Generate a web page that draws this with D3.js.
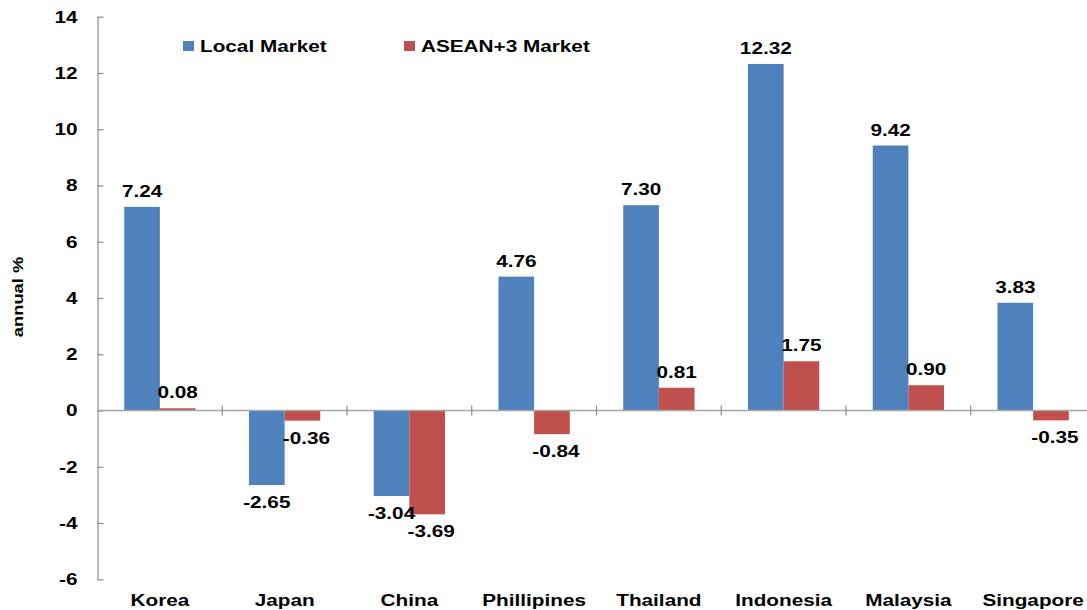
<!DOCTYPE html>
<html><head><meta charset="utf-8">
<script src="https://cdn.jsdelivr.net/npm/d3@7"></script>
<style>body{margin:0;background:#fff;} svg{display:block;font-family:"Liberation Sans",Arial,sans-serif;font-weight:bold;}</style>
</head><body>
<svg id="c" width="1087" height="610"></svg>
<script>
const categories = ["Korea","Japan","China","Phillipines","Thailand","Indonesia","Malaysia","Singapore"];
const seriesNames = ["Local Market","ASEAN+3 Market"];
const localMarket = [7.24,-2.65,-3.04,4.76,7.30,12.32,9.42,3.83];
const aseanMarket = [0.08,-0.36,-3.69,-0.84,0.81,1.75,0.90,-0.35];
const yTicks = [-6,-4,-2,0,2,4,6,8,10,12,14];
const colors = ["#4F81BD","#C0504D"];

(function(){
const SX = 1.22; // horizontal stretch of text seen in reference
const svg = d3.select("#c");
const pLeft = 97.5, pRight = 1095.5, pTop = 16.7, pBottom = 579.3;
const x = d3.scaleBand().domain(categories).range([pLeft, pRight]).paddingInner(0).paddingOuter(0);
const x1 = d3.scaleBand().domain(seriesNames).range([0, 71.3]);
const groupOff = (x.bandwidth() - 71.3) / 2;
const y = d3.scaleLinear().domain([-6, 14]).range([pBottom, pTop]);
const fmt = v => d3.format(".2f")(v).replace("\u2212", "-");

// y axis
const yAxis = d3.axisLeft(y).tickValues(yTicks).tickSizeInner(-6).tickSizeOuter(0).tickPadding(20)
  .tickFormat(d => String(d));
const gy = svg.append("g").attr("transform", `translate(${pLeft},0)`).call(yAxis);
gy.select(".domain").attr("stroke", "#8c8c8c").attr("stroke-width", 1.2);
gy.selectAll(".tick line").attr("stroke", "#8c8c8c").attr("stroke-width", 1.2);
gy.selectAll(".tick text").each(function(){
  const t = d3.select(this);
  const xx = +t.attr("x");
  t.attr("x", null).attr("transform", `translate(${xx},0) scale(${SX},1)`);
}).attr("font-size", 17).attr("font-weight", "bold").attr("fill", "#000").attr("font-family", "Liberation Sans, Arial, sans-serif");

// y title
svg.append("text").attr("transform", `translate(23,${297}) rotate(-90) scale(${SX},1)`)
  .attr("text-anchor", "middle").attr("font-size", 15).text("annual %");

const data = categories.map((c, i) => ({cat: c, vals: [localMarket[i], aseanMarket[i]]}));

// bars
const groups = svg.append("g").selectAll("g").data(data).join("g")
  .attr("transform", d => `translate(${x(d.cat) + groupOff},0)`);
groups.selectAll("rect").data(d => d.vals.map((v, k) => ({v, k})))
  .join("rect")
  .attr("x", d => x1(seriesNames[d.k]))
  .attr("width", x1.bandwidth())
  .attr("y", d => Math.min(y(d.v), y(0)))
  .attr("height", d => Math.abs(y(d.v) - y(0)))
  .attr("fill", d => colors[d.k]);

// zero line
svg.append("line").attr("x1", pLeft).attr("x2", pRight).attr("y1", y(0)).attr("y2", y(0))
  .attr("stroke", "#a6a6a6").attr("stroke-width", 1.5);
// category ticks
svg.append("g").selectAll("line").data(categories.slice(1)).join("line")
  .attr("x1", d => x(d)).attr("x2", d => x(d))
  .attr("y1", y(0) - 5).attr("y2", y(0) + 5)
  .attr("stroke", "#8c8c8c").attr("stroke-width", 1.2);

// value labels
groups.selectAll("text").data(d => d.vals.map((v, k) => ({v, k})))
  .join("text")
  .attr("transform", d => {
    const lx = x1(seriesNames[d.k]) + x1.bandwidth() / 2 + (d.v < 0 && d.k === 1 ? 4 : 0);
    const ly = d.v >= 0 ? y(d.v) - 10 : y(d.v) + 23;
    return `translate(${lx},${ly}) scale(${SX},1)`;
  })
  .attr("text-anchor", "middle").attr("font-size", 17).attr("fill", "#000")
  .text(d => fmt(d.v));

// category labels
svg.append("g").selectAll("text").data(categories).join("text")
  .attr("transform", d => `translate(${x(d) + x.bandwidth() / 2},606) scale(${SX},1)`)
  .attr("text-anchor", "middle").attr("font-size", 17).attr("fill", "#000")
  .text(d => d);

// legend
const legX = [183, 404];
const leg = svg.append("g").selectAll("g").data(seriesNames).join("g")
  .attr("transform", (d, i) => `translate(${legX[i]},41)`);
leg.append("rect").attr("width", 11).attr("height", 10).attr("fill", (d, i) => colors[i]);
leg.append("text").attr("transform", `translate(17,11) scale(${SX},1)`).attr("font-size", 17).attr("fill", "#000").text(d => d);
})();
</script>
</body></html>
